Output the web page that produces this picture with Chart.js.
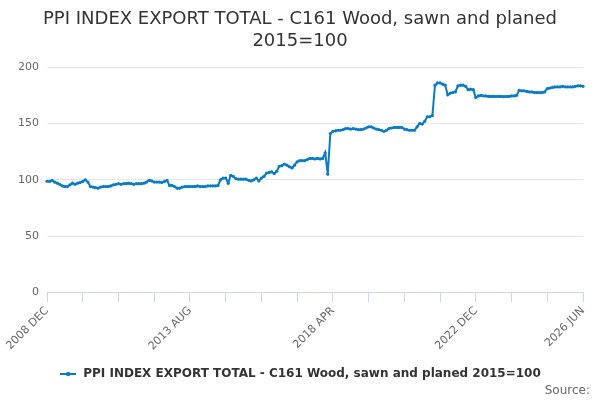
<!DOCTYPE html>
<html>
<head>
<meta charset="utf-8">
<script src="https://cdn.jsdelivr.net/npm/chart.js@4.4.1/dist/chart.umd.min.js"></script>
<style>
  html, body { margin: 0; padding: 0; background: #ffffff; }
  #wrap { position: relative; width: 600px; height: 400px; }
  #source { position: absolute; right: 10px; bottom: 3px; font: 12px "DejaVu Sans", sans-serif; color: #666666; }
</style>
</head>
<body>
<div id="wrap">
  <canvas id="c" width="600" height="400"></canvas>
  <div id="source">Source:</div>
</div>
<script>
const titleLines = ["PPI INDEX EXPORT TOTAL - C161 Wood, sawn and planed", "2015=100"];
const seriesName = "PPI INDEX EXPORT TOTAL - C161 Wood, sawn and planed 2015=100";
const startYear = 2008;
const startMonth = 11; // December (0-based)
const monthNames = ["JAN","FEB","MAR","APR","MAY","JUN","JUL","AUG","SEP","OCT","NOV","DEC"];
const yTicks = [0, 50, 100, 150, 200];

const values = [
  98.7, 98.5, 99.5, 98, 97, 96, 94.5, 94, 94, 95.5,
  97, 96, 97, 97.5, 98.5, 100, 98, 94, 93.5, 93,
  92.5, 93.5, 94, 94, 94, 94.5, 95.5, 96, 96.5, 96,
  96.5, 96.5, 97, 96.5, 96, 96.5, 96.5, 96.5, 97, 98,
  99.5, 99, 98, 98, 98, 97.5, 98.5, 99.5, 95, 95,
  94, 92.5, 92.5, 93.5, 94, 94, 94, 94, 94, 94.5,
  94, 94, 94, 94.5, 94.5, 94.5, 94.5, 95, 100, 101.5,
  101.5, 97, 104, 103, 101, 100.5, 100.5, 100.5, 100.5, 99.5,
  99, 100, 101.5, 99, 101.5, 103, 106, 106.5, 107, 105.5,
  107.5, 112, 112.5, 114, 113, 111.5, 110.5, 113, 116, 117,
  117, 117, 118, 119, 119, 118.5, 119, 118.5, 119, 124,
  105, 141, 143, 143.5, 144, 144, 144.5, 145.5, 145.5, 145,
  145.5, 145, 144.5, 144.5, 145, 146, 147, 147, 146, 145,
  144.5, 144, 143, 144, 145.5, 146, 146.5, 146.5, 146.5, 146.5,
  145, 144.5, 144, 144, 144, 147, 150, 149.5, 152, 156,
  156, 157, 184, 186, 186, 185, 184, 175.5, 177, 177.5,
  178, 183.5, 184, 184, 183, 180, 180.5, 180, 173, 174.5,
  175, 174.5, 174.5, 174, 174, 174, 174, 174, 174, 173.8,
  174, 174, 174.5, 174.5, 175, 179.5, 179, 179, 178.5, 178,
  178, 177.5, 177.5, 177.5, 177.5, 178, 181, 181.5, 182, 182.5,
  182.5, 182.5, 183, 182.5, 182.5, 182.5, 182.5, 183, 183.5, 183.5, 183
];

const categories = [];
for (let i = 0; i < values.length; i++) {
  const m = startMonth + i;
  categories.push((startYear + Math.floor(m / 12)) + " " + monthNames[m % 12]);
}

const lineColor = "#0a7bc4";
const TICK_EVERY = 14;
const LABEL_EVERY = 56;

// legend symbol: line with dot
const sym = document.createElement("canvas");
sym.width = 16; sym.height = 6;
(function () {
  const g = sym.getContext("2d");
  g.strokeStyle = lineColor; g.lineWidth = 2;
  g.beginPath(); g.moveTo(0, 3); g.lineTo(16, 3); g.stroke();
  g.fillStyle = lineColor;
  g.beginPath(); g.arc(8, 3, 2.2, 0, Math.PI * 2); g.fill();
})();

new Chart(document.getElementById("c"), {
  type: "line",
  data: {
    labels: categories,
    datasets: [{
      label: seriesName,
      data: values,
      borderColor: lineColor,
      backgroundColor: lineColor,
      borderWidth: 2,
      pointRadius: 1.6,
      pointHoverRadius: 3,
      pointBorderWidth: 0,
      tension: 0,
      fill: false
    }]
  },
  options: {
    responsive: false,
    animation: false,
    devicePixelRatio: 1,
    layout: { padding: { left: 0, right: 0, top: 0, bottom: 10 } },
    plugins: {
      title: {
        display: true,
        text: titleLines,
        color: "#333333",
        font: { family: "DejaVu Sans", size: 18, weight: "normal", lineHeight: 1.2 },
        padding: { top: 9, bottom: 15 }
      },
      legend: {
        display: true,
        position: "bottom",
        labels: {
          usePointStyle: true,
          pointStyle: sym,
          pointStyleWidth: 18,
          color: "#333333",
          font: { family: "DejaVu Sans", size: 12, weight: "bold" },
          padding: 8
        }
      },
      tooltip: { enabled: false }
    },
    scales: {
      x: {
        type: "category",
        offset: false,
        afterBuildTicks: (s) => { s.ticks = s.ticks.filter(t => t.value % TICK_EVERY === 0); },
        afterFit: (s) => { s.height += 5; },
        ticks: {
          autoSkip: false,
          maxRotation: 45,
          minRotation: 45,
          color: "#666666",
          font: { family: "DejaVu Sans", size: 11 },
          padding: 2,
          callback: function (val) {
            if (val % LABEL_EVERY === 0 || val === values.length - 1) return categories[val];
            return "";
          }
        },
        grid: { display: true, drawOnChartArea: false, drawTicks: true, tickLength: 10, color: "#ccd6eb" },
        border: { display: true, color: "#ccd6eb", width: 1 }
      },
      y: {
        min: 0,
        max: 200,
        afterBuildTicks: (s) => { s.ticks = yTicks.map(v => ({ value: v })); },
        afterFit: (s) => { s.width = 47; },
        ticks: {
          color: "#666666",
          font: { family: "DejaVu Sans", size: 11 },
          padding: 8
        },
        grid: { color: "#e6e6e6", drawTicks: false },
        border: { display: false }
      },
      yRight: {
        position: "right",
        min: 0,
        max: 200,
        afterFit: (s) => { s.width = 17; },
        ticks: { display: false },
        grid: { display: false, drawTicks: false },
        border: { display: false }
      }
    }
  }
});
</script>
</body>
</html>
